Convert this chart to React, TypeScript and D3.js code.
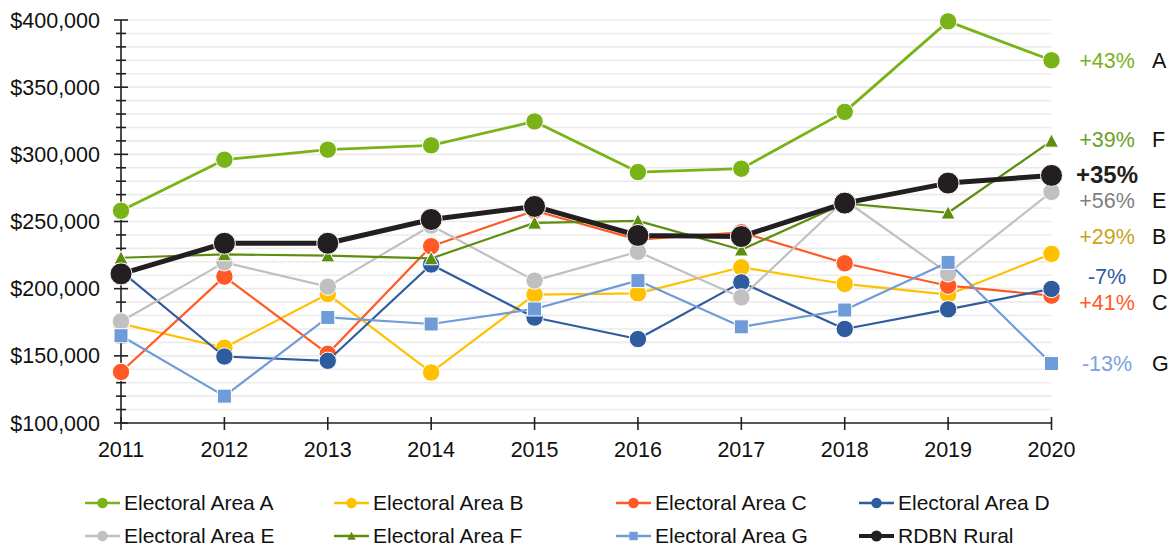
import React from 'react';
import * as d3 from 'd3';

// ---------- data ----------
const years = [2011, 2012, 2013, 2014, 2015, 2016, 2017, 2018, 2019, 2020];
const areaA = [258000, 296000, 303500, 306700, 324500, 286800, 289300, 331600, 399000, 370000];
const areaB = [174000, 156000, 196000, 137600, 195500, 196500, 215900, 203500, 195500, 225900];
const areaC = [138000, 209000, 151500, 231600, 258000, 236500, 242000, 218900, 202200, 194800];
const areaD = [213000, 149500, 146300, 218000, 178500, 162500, 204700, 170000, 184600, 199800];
const areaE = [175600, 219600, 201500, 247000, 206000, 227500, 193500, 266000, 211400, 272000];
const areaF = [223000, 225500, 224600, 222500, 249000, 250500, 229000, 263500, 256500, 310000];
const areaG = [165000, 120000, 178600, 173700, 184900, 206000, 171600, 184100, 219600, 144300];
const rdbnRural = [211000, 233800, 233800, 251500, 261200, 239600, 238800, 263700, 278600, 284300];

const seriesNames = [
  'Electoral Area A', 'Electoral Area B', 'Electoral Area C', 'Electoral Area D',
  'Electoral Area E', 'Electoral Area F', 'Electoral Area G', 'RDBN Rural',
];
const changeLabels = ['+43%', '+29%', '+41%', '-7%', '+56%', '+39%', '-13%', '+35%'];
const areaLetters = ['A', 'B', 'C', 'D', 'E', 'F', 'G', ''];
const yTickValues = [100000, 150000, 200000, 250000, 300000, 350000, 400000];

// ---------- styles / layout ----------
const W = 1173;
const H = 546;
const FONT = "'Liberation Sans', Arial, Helvetica, sans-serif";
const colors = ['#7AB317', '#FFC000', '#FF5A26', '#2E5C9E', '#C0C0C0', '#5E8E0E', '#6F9BD8', '#231F20'];
const labelColors = ['#78B11C', '#C9A21A', '#FF5A26', '#2E5C9E', '#7F7F7F', '#6AA11E', '#7DA2DC', '#231F20'];
const markers = ['circle', 'circle', 'circle', 'circle', 'circle', 'triangle', 'square', 'bigcircle'];
const lineWidths = [2.8, 2.2, 2.2, 2.2, 2.2, 2.2, 2.2, 5];
const labelY = [60, 236, 302, 276, 200, 139, 363, 175];
const legendCols = [85, 334, 616, 859];
const legendRows = [503, 536];

const x = d3.scaleLinear().domain([2011, 2020]).range([121, 1051.5]);
const y = d3.scaleLinear().domain([100000, 400000]).range([423, 20]);
const fmt = d3.format('$,.0f');

const seriesValues = [areaA, areaB, areaC, areaD, areaE, areaF, areaG, rdbnRural];

const series = seriesValues.map((vals, i) => ({
  name: seriesNames[i],
  values: vals,
  color: colors[i],
  labelColor: labelColors[i],
  marker: markers[i],
  lw: lineWidths[i],
  change: changeLabels[i],
  letter: areaLetters[i],
  ly: labelY[i],
}));

const lineGen = d3
  .line<number>()
  .x((_, i) => x(years[i]))
  .y((d) => y(d));

function Marker({ type, cx, cy, color, scale = 1 }: { type: string; cx: number; cy: number; color: string; scale?: number }) {
  const sw = scale === 1 ? 1 : 0;
  if (type === 'circle') {
    return <circle cx={cx} cy={cy} r={8.7 * scale} fill={color} stroke="#fff" strokeWidth={sw} />;
  }
  if (type === 'bigcircle') {
    return <circle cx={cx} cy={cy} r={11 * scale} fill={color} stroke="#fff" strokeWidth={sw} />;
  }
  if (type === 'square') {
    const s = 14 * scale;
    return <rect x={cx - s / 2} y={cy - s / 2} width={s} height={s} fill={color} stroke="#fff" strokeWidth={sw} />;
  }
  const h = 7 * scale;
  const p = `M${cx},${cy - h}L${cx + h},${cy + h * 0.9}L${cx - h},${cy + h * 0.9}Z`;
  return <path d={p} fill={color} stroke="#fff" strokeWidth={sw} />;
}

export default function App() {
  const gridVals = d3.range(110000, 400001, 10000);
  const minorVals = d3.range(100000, 400001, 10000).filter((v) => v % 50000 !== 0);
  const [x0, x1] = x.range();
  return (
    <svg width={W} height={H} style={{ position: 'absolute', left: 0, top: 0, background: '#fff' }} fontFamily={FONT}>
      {/* gridlines */}
      {gridVals.map((v) => (
        <line key={'g' + v} x1={x0} x2={x1} y1={y(v)} y2={y(v)} stroke="#EBEBEB" strokeWidth={1.6} />
      ))}
      {/* y axis */}
      <line x1={x0} x2={x0} y1={y(400000)} y2={y(100000)} stroke="#231F20" strokeWidth={1.6} />
      {yTickValues.map((v) => (
        <g key={'yt' + v}>
          <line x1={x0 - 7} x2={x0 + 7} y1={y(v)} y2={y(v)} stroke="#231F20" strokeWidth={1.6} />
          <text x={100} y={y(v)} dy="0.35em" textAnchor="end" fontSize={21.5} fill="#111">
            {fmt(v)}
          </text>
        </g>
      ))}
      {minorVals.map((v) => (
        <line key={'ym' + v} x1={x0 - 5} x2={x0 + 5} y1={y(v)} y2={y(v)} stroke="#231F20" strokeWidth={1.6} />
      ))}
      {/* x axis */}
      <line x1={x0} x2={x1} y1={y(100000)} y2={y(100000)} stroke="#231F20" strokeWidth={1.6} />
      {years.map((yr) => (
        <g key={'xt' + yr}>
          <line x1={x(yr)} x2={x(yr)} y1={y(100000) - 6} y2={y(100000) + 7} stroke="#231F20" strokeWidth={1.6} />
          <text x={x(yr)} y={457} textAnchor="middle" fontSize={21.5} fill="#111">
            {yr}
          </text>
        </g>
      ))}
      {/* series */}
      {series.map((s) => (
        <g key={s.name}>
          <path d={lineGen(s.values) || ''} fill="none" stroke={s.color} strokeWidth={s.lw} strokeLinejoin="round" />
          {s.values.map((v, i) => (
            <Marker key={i} type={s.marker} cx={x(years[i])} cy={y(v)} color={s.color} />
          ))}
        </g>
      ))}
      {/* end labels */}
      {series.map((s, i) => (
        <g key={'lab' + i}>
          <text
            x={1107}
            y={s.ly}
            dy="0.35em"
            textAnchor="middle"
            fontSize={i === 7 ? 24 : 21.5}
            fontWeight={i === 7 ? 'bold' : 'normal'}
            fill={s.labelColor}
          >
            {s.change}
          </text>
          {s.letter && (
            <text x={1152} y={s.ly} dy="0.35em" fontSize={21.5} fill="#111">
              {s.letter}
            </text>
          )}
        </g>
      ))}
      {/* legend */}
      {series.map((s, i) => {
        const lx = legendCols[i % 4];
        const ly = legendRows[Math.floor(i / 4)];
        return (
          <g key={'leg' + i}>
            <line x1={lx} x2={lx + 35} y1={ly} y2={ly} stroke={s.color} strokeWidth={i === 7 ? 4 : 2.5} />
            <Marker type={s.marker} cx={lx + 17.5} cy={ly} color={s.color} scale={s.marker === 'bigcircle' ? 0.5 : 0.6} />
            <text x={lx + 39} y={ly} dy="0.35em" fontSize={21} fill="#111">
              {s.name}
            </text>
          </g>
        );
      })}
    </svg>
  );
}
